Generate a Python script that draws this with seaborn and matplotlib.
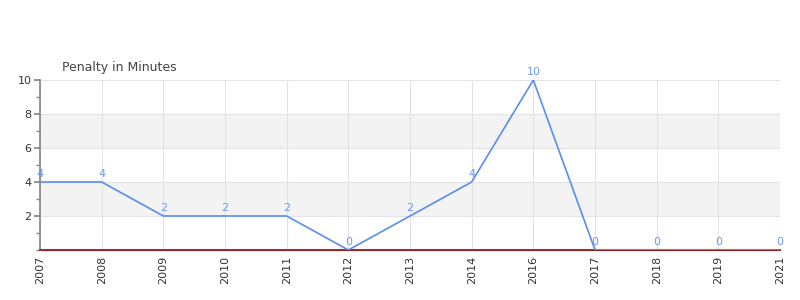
import matplotlib
matplotlib.use("Agg")
import matplotlib.pyplot as plt
import seaborn as sns
import pandas as pd
from matplotlib.ticker import MultipleLocator

seasons = ["2007", "2008", "2009", "2010", "2011", "2012", "2013",
           "2014", "2016", "2017", "2018", "2019", "2021"]
pim = [4, 4, 2, 2, 2, 0, 2, 4, 10, 0, 0, 0, 0]
title = "Penalty in Minutes"

sns.set_theme(style="white")
plt.rcParams['font.family'] = ['DejaVu Sans']

df = pd.DataFrame({"idx": list(range(len(seasons))), "season": seasons, "pim": pim})

fig = plt.figure(figsize=(8, 3), dpi=100)
ax = fig.add_axes([0.05, 0.1667, 0.925, 0.5666])

# alternating bands
for lo, hi in [(2, 4), (6, 8)]:
    ax.axhspan(lo, hi, color="#f3f3f3", zorder=0, lw=0)

sns.lineplot(data=df, x="idx", y="pim", ax=ax, color="#5b8def", lw=1.2, zorder=3)

ax.set_xlim(0, len(seasons) - 1)
ax.set_ylim(0, 10)
ax.set_xticks(df["idx"])
ax.set_xticklabels(seasons, rotation=90, fontsize=8, color="#333333")
ax.set_yticks([2, 4, 6, 8, 10])
ax.set_yticklabels(["2", "4", "6", "8", "10"], fontsize=8, color="#333333")
ax.yaxis.set_minor_locator(MultipleLocator(1))
ax.tick_params(axis="y", which="major", length=4, color="#888888", left=True, pad=2)
ax.tick_params(axis="y", which="minor", length=3, color="#888888", left=True)
ax.tick_params(axis="x", length=0, pad=4)
ax.set_xlabel("")
ax.set_ylabel("")

ax.grid(True, color="#e3e3e3", lw=0.8, zorder=1)
ax.set_axisbelow(True)
for side in ["top", "right"]:
    ax.spines[side].set_visible(False)
ax.spines["left"].set_color("#888888")
ax.spines["bottom"].set_color("#555555")
ax.spines["bottom"].set_linewidth(1.5)
ax.axhline(0, color="#bb0000", lw=0.45, zorder=5, clip_on=False)
# right grid border
ax.axvline(len(seasons) - 1, color="#e3e3e3", lw=0.8, zorder=1)

for i, v in enumerate(pim):
    ax.annotate(str(v), (i, v), xytext=(0, 2.5), textcoords="offset points",
                ha="center", va="bottom", fontsize=8, color="#6f9aeb", zorder=5,
                annotation_clip=False)

fig.text(62 / 800, 1 - 67 / 300, title, fontsize=9, color="#444444", ha="left", va="center")

fig.savefig("out.png", dpi=100)
